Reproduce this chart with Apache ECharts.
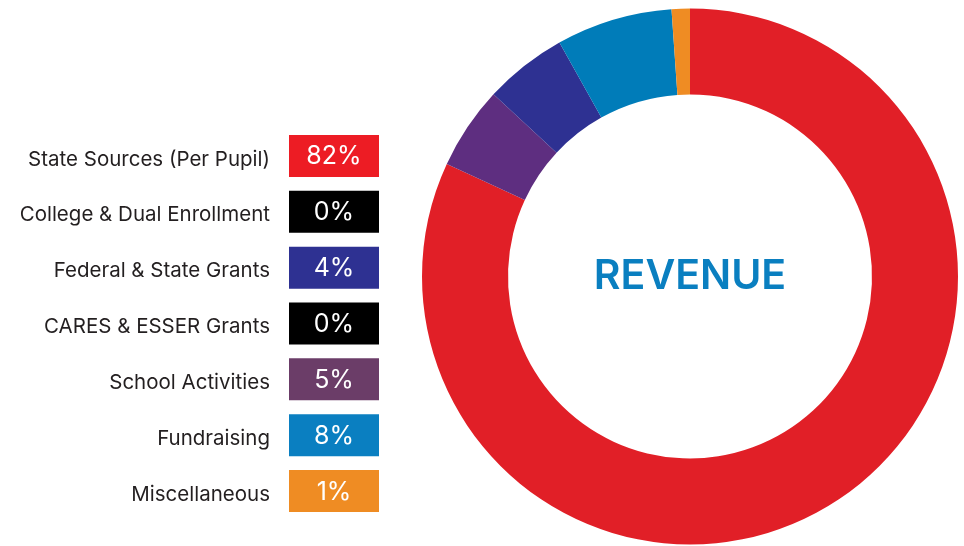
<!DOCTYPE html>
<html><head><meta charset="utf-8">
<script src="https://cdn.jsdelivr.net/npm/echarts@6/dist/echarts.min.js"></script>
<style>html,body{margin:0;padding:0;background:#fff}#c{width:964px;height:546px}</style>
</head><body><div id="c"></div>
<script>
const categories = ['State Sources (Per Pupil)','College & Dual Enrollment','Federal & State Grants','CARES & ESSER Grants','School Activities','Fundraising','Miscellaneous'];
const percentages = [82, 0, 4, 0, 5, 8, 1];
const boxColors = ['#ed1c24','#000000','#2e3192','#000000','#6b3d68','#0a7fc1','#ef8c23'];
const sliceNames = ['State Sources (Per Pupil)','School Activities','Federal & State Grants','Fundraising','Miscellaneous'];
const sliceValues = [81.9, 5.0, 5.0, 7.0, 1.1];
const sliceColors = ['#e11f27','#5e2e80','#2e3192','#007cb9','#ef8c23'];
const centerTitle = 'REVENUE';

const chart = echarts.init(document.getElementById('c'), null, {renderer:'canvas'});
chart.setOption({
  animation: false,
  backgroundColor: '#ffffff',
  grid: {left: 289, width: 90, top: 128, height: 391},
  xAxis: {type: 'value', min: 0, max: 1, show: false},
  yAxis: {
    type: 'category', data: categories, inverse: true,
    axisLine: {show: false}, axisTick: {show: false}, splitLine: {show: false},
    axisLabel: {margin: 19, color: '#231f20',
      formatter: (v) => '{t|' + v + '}',
      rich: {t: {fontSize: 20.5, fontFamily: 'Inter', color: '#231f20', padding: [7, 0, 0, 0]}}}
  },
  graphic: [{
    type: 'text', x: 690, y: 277, silent: true,
    style: {text: centerTitle, align: 'center', verticalAlign: 'middle',
      font: '600 41px Inter', fill: '#0a7fc0'}
  }],
  series: [
    {
      type: 'bar', silent: true, barWidth: 42,
      data: percentages.map((p, i) => ({value: 1, itemStyle: {color: boxColors[i]}})),
      label: {show: true, position: 'inside', color: '#ffffff', fontSize: 25, fontFamily: 'Inter', offset: [0, 1],
        formatter: (p) => percentages[p.dataIndex] + '%'}
    },
    {
      type: 'pie', silent: true, center: [690, 276.5], radius: [182, 268],
      startAngle: 90, clockwise: true, label: {show: false}, labelLine: {show: false},
      itemStyle: {borderWidth: 0},
      data: sliceValues.map((v, i) => ({name: sliceNames[i], value: v, itemStyle: {color: sliceColors[i]}}))
    }
  ]
});
</script></body></html>
